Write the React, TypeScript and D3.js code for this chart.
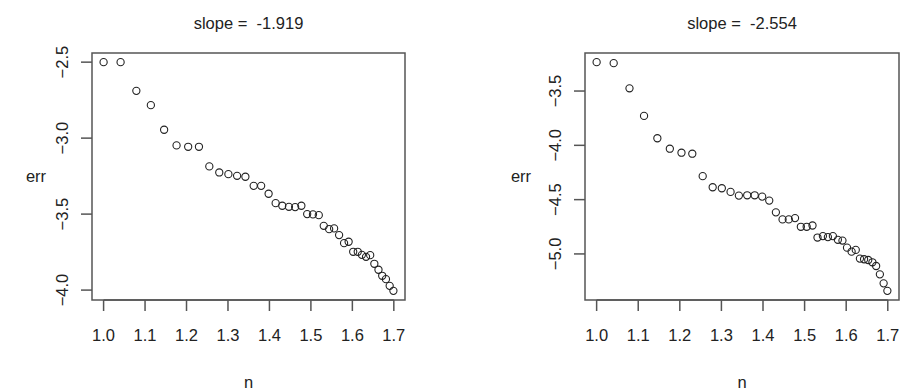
import * as d3 from "d3";

// ── Data — log-log error vs n, two runs ───────────────────────
const N = [
  1.0, 1.041, 1.079, 1.114, 1.146, 1.176, 1.204, 1.23, 1.255, 1.279, 1.301,
  1.322, 1.342, 1.362, 1.38, 1.398, 1.415, 1.431, 1.447, 1.462, 1.477, 1.491,
  1.505, 1.519, 1.531, 1.544, 1.556, 1.568, 1.58, 1.591, 1.602, 1.613, 1.623,
  1.633, 1.643, 1.653, 1.663, 1.672, 1.681, 1.69, 1.699,
];

const ERR_A = [
  -2.5, -2.5, -2.689, -2.783, -2.945, -3.048, -3.057, -3.057, -3.186, -3.226,
  -3.237, -3.248, -3.254, -3.314, -3.314, -3.366, -3.428, -3.445, -3.452,
  -3.454, -3.445, -3.5, -3.502, -3.507, -3.577, -3.599, -3.594, -3.638, -3.691,
  -3.682, -3.748, -3.748, -3.768, -3.781, -3.77, -3.827, -3.866, -3.906,
  -3.928, -3.972, -4.005,
];

const ERR_B = [
  -3.234, -3.243, -3.475, -3.729, -3.935, -4.031, -4.068, -4.077, -4.284,
  -4.386, -4.395, -4.429, -4.463, -4.46, -4.46, -4.472, -4.509, -4.617, -4.682,
  -4.682, -4.67, -4.75, -4.75, -4.738, -4.849, -4.836, -4.845, -4.836, -4.87,
  -4.877, -4.942, -4.979, -4.963, -5.043, -5.049, -5.056, -5.077, -5.111,
  -5.188, -5.271, -5.34,
];

const TITLES = ["slope =  -1.919", "slope =  -2.554"];
const X_TICKS = [1.0, 1.1, 1.2, 1.3, 1.4, 1.5, 1.6, 1.7];
const Y_TICKS_A = [-2.5, -3.0, -3.5, -4.0];
const Y_TICKS_B = [-3.5, -4.0, -4.5, -5.0];

// ── Geometry ──────────────────────────────────────────────────
const W = 903;
const H = 392;
const BOX_TOP = 53;
const BOX_BOTTOM = 300;
const TICK = 11;
const FS = 16.5;
const INK = "#222";
const FRAME = "#555";
const FONT = "'Liberation Sans', Arial, sans-serif";
const fmt = d3.format(".1f");

// R-style 4% padding around the data extent
function padded(vals: number[]): [number, number] {
  const [lo, hi] = d3.extent(vals) as [number, number];
  const p = (hi - lo) * 0.04;
  return [lo - p, hi + p];
}

interface PanelProps {
  left: number;
  right: number;
  ys: number[];
  yTicks: number[];
  title: string;
  labelOffset: number;
}

function Panel({ left, right, ys, yTicks, title, labelOffset }: PanelProps) {
  const x = d3.scaleLinear().domain(padded(N)).range([left, right]);
  const y = d3.scaleLinear().domain(padded(ys)).range([BOX_BOTTOM, BOX_TOP]);
  const cx = (left + right) / 2;
  const cy = (BOX_TOP + BOX_BOTTOM) / 2;

  return (
    <g fontFamily={FONT} fill={INK}>
      <text x={cx} y={29} fontSize={FS} textAnchor="middle" style={{ whiteSpace: "pre" }}>
        {title}
      </text>

      {/* frame */}
      <rect x={left} y={BOX_TOP} width={right - left} height={BOX_BOTTOM - BOX_TOP}
        fill="none" stroke={FRAME} strokeWidth={1.5} />

      {/* x axis */}
      <line x1={x(X_TICKS[0])} x2={x(X_TICKS[X_TICKS.length - 1])}
        y1={BOX_BOTTOM} y2={BOX_BOTTOM} stroke={FRAME} strokeWidth={1.5} />
      {X_TICKS.map((t) => (
        <g key={`x-${t}`}>
          <line x1={x(t)} x2={x(t)} y1={BOX_BOTTOM} y2={BOX_BOTTOM + TICK}
            stroke={FRAME} strokeWidth={1.5} />
          <text x={x(t)} y={BOX_BOTTOM + 41} fontSize={FS} textAnchor="middle">
            {fmt(t)}
          </text>
        </g>
      ))}
      <text x={cx} y={388} fontSize={FS} textAnchor="middle">n</text>

      {/* y axis */}
      {yTicks.map((t) => (
        <g key={`y-${t}`}>
          <line x1={left - TICK} x2={left} y1={y(t)} y2={y(t)}
            stroke={FRAME} strokeWidth={1.5} />
          <text transform={`translate(${left - 30},${y(t)}) rotate(-90)`}
            dy="0.35em" fontSize={FS} textAnchor="middle">
            {fmt(t)}
          </text>
        </g>
      ))}
      <text x={left - labelOffset} y={cy} dy="0.35em" fontSize={FS} textAnchor="middle">err</text>

      {/* points */}
      {N.map((n, i) => (
        <circle key={i} cx={x(n)} cy={y(ys[i])} r={3.6}
          fill="none" stroke={INK} strokeWidth={1.1} />
      ))}
    </g>
  );
}

export default function App() {
  return (
    <div style={{ position: "absolute", left: 0, top: 0 }}>
      <svg width={W} height={H} style={{ display: "block", background: "#fff" }}>
        <Panel left={92} right={405} ys={ERR_A} yTicks={Y_TICKS_A} title={TITLES[0]} labelOffset={56} />
        <Panel left={585} right={899} ys={ERR_B} yTicks={Y_TICKS_B} title={TITLES[1]} labelOffset={64} />
      </svg>
    </div>
  );
}
